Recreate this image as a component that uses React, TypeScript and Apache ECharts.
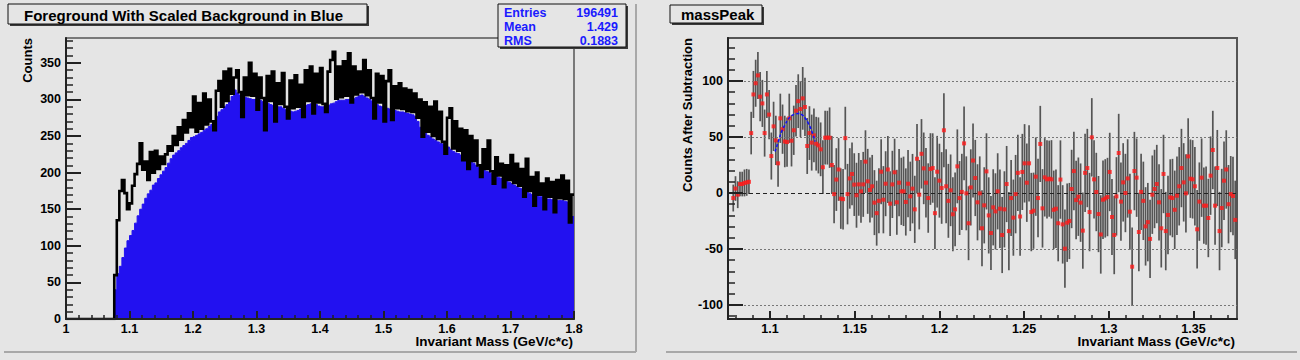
import React, { useEffect, useRef } from "react";
import * as echarts from "echarts";

// ---------- Left panel: foreground / scaled background histograms ----------
const HIST_MIN = 1.0;
const HIST_MAX = 1.8;
const FIRST_FILLED_EDGE = 1.076;
const BIN_WIDTH = 0.004;

const fgCounts = [
  60, 135, 175, 190, 172, 150, 158, 182, 198, 212,
  240, 204, 215, 190, 228, 200, 230, 205, 222, 212,
  225, 236, 230, 250, 238, 262, 245, 272, 255, 281,
  262, 304, 256, 295, 260, 308, 266, 300, 270, 258,
  312, 325, 290, 338, 298, 342, 308, 330, 340, 310,
  276, 330, 306, 350, 305, 335, 286, 330, 302, 258,
  332, 298, 338, 270, 322, 294, 336, 290, 274, 326,
  288, 333, 290, 320, 276, 340, 298, 345, 281, 335,
  296, 343, 294, 283, 338, 354, 365, 301, 345, 303,
  352, 305, 363, 296, 345, 307, 338, 310, 354, 306,
  340, 302, 274, 335, 296, 332, 270, 325, 340, 272,
  318, 288, 322, 287, 315, 284, 313, 283, 308, 275,
  300, 249, 296, 256, 290, 250, 297, 246, 283, 242,
  226, 275, 288, 233, 270, 230, 260, 217, 258, 205,
  250, 216, 244, 210, 194, 232, 205, 244, 202, 185,
  221, 196, 212, 180, 210, 190, 224, 186, 212, 182,
  205, 167, 219, 175, 194, 155, 200, 170, 185, 150,
  192, 167, 187, 146, 190, 165, 196, 164, 189, 132,
  170,
];

const bgCounts = [
  40, 62, 72, 84, 97, 107, 114, 121, 131, 141,
  150, 157, 165, 171, 176, 183, 186, 192, 197, 202,
  207, 213, 219, 224, 227, 230, 234, 237, 240, 244,
  248, 249, 251, 253, 255, 258, 260, 263, 266, 270,
  277, 283, 286, 290, 293, 298, 304, 313, 309, 306,
  304, 303, 302, 301, 300, 300, 299, 299, 297, 296,
  295, 293, 292, 291, 290, 290, 288, 286, 285, 284,
  283, 284, 285, 287, 290, 292, 293, 294, 295, 293,
  291, 290, 290, 290, 292, 294, 295, 297, 299, 299,
  299, 300, 300, 301, 301, 303, 305, 306, 304, 302,
  300, 298, 295, 293, 291, 290, 289, 288, 287, 286,
  285, 284, 283, 283, 282, 281, 280, 279, 277, 270,
  262, 257, 254, 251, 249, 246, 244, 242, 240, 239,
  237, 235, 232, 229, 227, 226, 224, 221, 218, 217,
  215, 213, 210, 207, 205, 204, 202, 201, 199, 197,
  195, 193, 192, 190, 188, 187, 185, 183, 181, 179,
  178, 176, 174, 172, 170, 169, 168, 167, 167, 166,
  164, 164, 163, 162, 162, 162, 162, 161, 160, 158,
  140,
];

const leftXTicks = [1, 1.1, 1.2, 1.3, 1.4, 1.5, 1.6, 1.7, 1.8];
const leftYTicks = [0, 50, 100, 150, 200, 250, 300, 350];
const LEFT_Y_MAX = 384;

// ---------- Right panel: subtracted mass peak ----------
const SUB_X_MIN = 1.0752;
const SUB_X_MAX = 1.3757;
const SUB_FIRST_CENTER = 1.0783;
const SUB_STEP = 0.001323;
const SUB_Y_MIN = -112.5;
const SUB_Y_MAX = 138.4;

const subValues = [
  -4.5, 4, -1.5, 8, 8, 9, 9.5, 10, 53.5, 88,
  98, 105, 86, 80, 53.5, 88, 70, 33, 59.5, 47,
  26.5, 66.7, 57, 46, 45.5, 66.7, 46.7, 56, 73.5, 82,
  75, 84.5, 76.8, 42, 53.5, 45, 51.5, 44, 42.5, 39,
  23, 49.4, 49.4, 49.4, 25, -1, 12, 21, -5, -5.5,
  49, -1, 13, 17, 7.5, -2, 7.7, 1.5, 7.7, 28,
  10.4, 2.7, 6, -8.6, -18, -7, 19, -6, 8.3, 21,
  -9.5, 7.7, 18.5, -8.3, 9.2, 1.5, 1.5, -8, 8.3, -3,
  3.9, -14.6, 30.6, -1.5, 35, 22, 9.2, -4.5, 21.4, 22.3,
  -18, 19, 11, 4.5, 56, 6, -7, 2.4, -19, -14.6,
  23.8, -4.5, 1, 44.3, -0.3, -27, 5, 29, 13.4, -8.3,
  -0.3, -31.5, -11, 19.3, -20, -35.7, -12.8, -16.4, 1.5, -14,
  -37.5, -14.6, 8, -34, -4.5, -22, -1, 18, -21, 18.8,
  26.5, 9.2, 26.5, -17, -15.8, 14.6, -4.5, 43.8, -13.7, 14,
  12.2, 12.8, 12.2, -15, -14, -27, 12, -28, -49.7, -26.5,
  -25, 3.6, 19.6, -6.3, -3.3, -8.6, -33.6, 18, 22.3, -17,
  49.7, 12.2, 0.9, -18.8, -37, -6, -4.8, -3.6, 18.8, -21.4,
  -37.5, -3, 35.7, -7.7, 9.5, 0, 13, -16.7, -65.8, 19.6,
  13.7, -34.8, 1, -7, -29.8, -26, -41, -1.5, 3.6, 8,
  -8.3, -31.5, 17, -34, -19.6, -3.9, -4.5, -15, -2.4, 6,
  22.3, 9.5, -0.3, 32.7, 12.8, 12.2, 6, -32.4, -7.7, 13.7,
  -11.3, -11.3, -22.3, 15.5, 38.4, -11.3, 22.3, -34, -13.4, 11,
  21, -10, -1, -2.7, -24,
];

const subErrors = [
  12, 11, 12, 11, 11, 12, 12, 11, 19, 21,
  21, 21, 22, 21, 21, 21, 22, 21, 22, 22,
  21, 22, 22, 23, 22, 22, 23, 22, 23, 24,
  25, 28, 26, 25, 24, 25, 24, 24, 25, 24,
  24, 24, 24, 27, 26, 26, 28, 28, 27, 27,
  28, 27, 27, 28, 28, 29, 28, 28, 29, 28,
  29, 29, 28, 29, 29, 29, 29, 30, 29, 30,
  29, 30, 30, 29, 30, 30, 31, 30, 30, 31,
  31, 30, 31, 31, 31, 32, 31, 31, 32, 31,
  32, 32, 33, 32, 33, 33, 33, 32, 33, 33,
  33, 33, 34, 33, 33, 33, 34, 33, 34, 34,
  33, 34, 34, 34, 34, 33, 34, 34, 34, 35,
  34, 34, 34, 35, 34, 34, 35, 34, 35, 34,
  35, 35, 34, 35, 34, 35, 35, 34, 35, 35,
  35, 34, 35, 35, 35, 34, 35, 35, 35, 35,
  34, 35, 35, 35, 35, 35, 34, 35, 35, 35,
  35, 35, 35, 34, 35, 35, 35, 35, 35, 34,
  35, 35, 35, 35, 35, 35, 35, 34, 35, 35,
  35, 35, 34, 35, 35, 35, 35, 35, 35, 35,
  34, 35, 35, 35, 35, 34, 35, 35, 35, 35,
  35, 35, 35, 34, 35, 35, 35, 35, 35, 35,
  34, 35, 35, 35, 35, 35, 34, 35, 35, 35,
  35, 35, 34, 35, 35,
];

const fitX = [1.103, 1.1049, 1.1069, 1.1089, 1.1108, 1.1128, 1.1148, 1.1168, 1.1187, 1.1207, 1.1227, 1.1247, 1.1266];
const fitY = [37, 46, 55, 61, 66, 69, 70.5, 71, 70, 67, 62, 55, 46];

const rightXTicks = [1.1, 1.15, 1.2, 1.25, 1.3, 1.35];
const rightYTicks = [-100, -50, 0, 50, 100];

// ---------- helpers ----------
function minorTicks(start: number, stop: number, step: number, majors: number[]) {
  const out: number[] = [];
  const n = Math.round((stop - start) / step);
  for (let k = 0; k <= n; k++) {
    const v = Math.round((start + k * step) * 10000) / 10000;
    if (!majors.some((m) => Math.abs(m - v) < 1e-6)) out.push(v);
  }
  return out;
}

const FONT = '"Liberation Sans", Arial, Helvetica, sans-serif';
const BG = "#e5e5e5";
const BLUE = "#2211f0";

const labelStyle = { fontFamily: FONT, fontWeight: "bold" as const, fontSize: 12.5, color: "#000" };

function majorAxis(dim: "x" | "y", grid: number, min: number, max: number, ticks: number[], tickLen: number, margin: number) {
  return {
    type: "value",
    gridIndex: grid,
    position: dim === "x" ? "bottom" : "left",
    min,
    max,
    z: 10,
    axisLine: { show: true, onZero: false, lineStyle: { color: "#222", width: 2 } },
    axisTick: { show: true, inside: true, length: tickLen, customValues: ticks, lineStyle: { color: "#222", width: 2 } },
    axisLabel: { show: true, customValues: ticks, margin, ...labelStyle, formatter: (v: number) => String(v), hideOverlap: false },
    splitLine: { show: false },
    minorTick: { show: false },
  };
}

function minorAxis(dim: "x" | "y", grid: number, min: number, max: number, ticks: number[], tickLen: number) {
  return {
    type: "value",
    gridIndex: grid,
    position: dim === "x" ? "bottom" : "left",
    min,
    max,
    z: 10,
    axisLine: { show: false, onZero: false },
    axisTick: { show: true, inside: true, length: tickLen, customValues: ticks, lineStyle: { color: "#222", width: 1.5 } },
    axisLabel: { show: false },
    splitLine: { show: false },
  };
}

function boxWithShadow(x: number, y: number, w: number, h: number) {
  return [
    { type: "rect", z: 100, shape: { x: x + 2, y: y + 2, width: w, height: h }, style: { fill: "#3a3a3a" } },
    { type: "rect", z: 101, shape: { x, y, width: w, height: h }, style: { fill: BG, stroke: "#111", lineWidth: 1 } },
  ];
}

function txt(x: number, y: number, text: string, size: number, align: string, color = "#000", rotation = 0) {
  return {
    type: "text",
    z: 102,
    x,
    y,
    rotation,
    style: {
      text,
      fill: color,
      font: `bold ${size}px ${FONT}`,
      align,
      verticalAlign: "middle",
      textAlign: align,
      textVerticalAlign: "middle",
    },
  };
}

export default function App() {
  const ref = useRef<HTMLDivElement>(null);

  useEffect(() => {
    if (!ref.current) return;
    const chart = echarts.init(ref.current, undefined, { renderer: "svg" });

    const fgData: number[][] = [[HIST_MIN, 0]];
    fgCounts.forEach((v, i) => fgData.push([FIRST_FILLED_EDGE + i * BIN_WIDTH, v]));
    fgData.push([HIST_MAX, fgCounts[fgCounts.length - 1]]);

    const bgData: number[][] = [[HIST_MIN, 0]];
    bgCounts.forEach((v, i) => bgData.push([FIRST_FILLED_EDGE + i * BIN_WIDTH, v]));
    bgData.push([HIST_MAX, bgCounts[bgCounts.length - 1]]);

    const pts = subValues.map((v, i) => [SUB_FIRST_CENTER + i * SUB_STEP, v]);
    const bars = subValues.map((v, i) => [SUB_FIRST_CENTER + i * SUB_STEP, v - subErrors[i], v + subErrors[i]]);
    const fit = fitX.map((x, i) => [x, fitY[i]]);

    const option: any = {
      animation: false,
      backgroundColor: BG,
      grid: [
        { left: 66, top: 38, width: 508, height: 281, show: true, borderColor: "#555", borderWidth: 1.5, backgroundColor: "transparent", containLabel: false },
        { left: 728, top: 38, width: 509, height: 281, show: true, borderColor: "#555", borderWidth: 2, backgroundColor: "transparent", containLabel: false },
      ],
      xAxis: [
        majorAxis("x", 0, HIST_MIN, HIST_MAX, leftXTicks, 8, 3),
        minorAxis("x", 0, HIST_MIN, HIST_MAX, minorTicks(1.0, 1.8, 0.02, leftXTicks), 4),
        majorAxis("x", 1, SUB_X_MIN, SUB_X_MAX, rightXTicks, 8, 3),
        minorAxis("x", 1, SUB_X_MIN, SUB_X_MAX, minorTicks(1.08, 1.37, 0.01, rightXTicks), 4),
      ],
      yAxis: [
        majorAxis("y", 0, 0, LEFT_Y_MAX, leftYTicks, 15, 5),
        minorAxis("y", 0, 0, LEFT_Y_MAX, minorTicks(0, 380, 10, leftYTicks), 7),
        majorAxis("y", 1, SUB_Y_MIN, SUB_Y_MAX, rightYTicks, 15, 5),
        minorAxis("y", 1, SUB_Y_MIN, SUB_Y_MAX, minorTicks(-110, 130, 10, rightYTicks), 7),
      ],
      series: [
        {
          type: "line",
          name: "background",
          xAxisIndex: 0,
          yAxisIndex: 0,
          step: "end",
          data: bgData,
          showSymbol: false,
          silent: true,
          z: 2,
          lineStyle: { color: BLUE, width: 1 },
          areaStyle: { color: BLUE, opacity: 1 },
        },
        {
          type: "line",
          name: "foreground",
          xAxisIndex: 0,
          yAxisIndex: 0,
          step: "end",
          data: fgData,
          showSymbol: false,
          silent: true,
          z: 3,
          lineStyle: { color: "#000", width: 2.6, join: "miter" },
        },
        {
          type: "line",
          name: "grid",
          xAxisIndex: 2,
          yAxisIndex: 2,
          data: [],
          silent: true,
          z: 1,
          markLine: {
            silent: true,
            symbol: ["none", "none"],
            label: { show: false },
            data: rightYTicks.map((v) => ({
              yAxis: v,
              lineStyle: v === 0 ? { color: "#222", type: [4, 3], width: 1 } : { color: "#777", type: [2, 2], width: 1 },
            })),
          },
        },
        {
          type: "custom",
          name: "errors",
          xAxisIndex: 2,
          yAxisIndex: 2,
          data: bars,
          encode: { x: 0, y: [1, 2] },
          silent: true,
          z: 4,
          renderItem: (params: any, api: any) => {
            const x = api.value(0);
            const p1 = api.coord([x, api.value(1)]);
            const p2 = api.coord([x, api.value(2)]);
            return {
              type: "line",
              shape: { x1: p1[0], y1: p1[1], x2: p2[0], y2: p2[1] },
              style: { stroke: "#555", lineWidth: 1.7 },
            };
          },
        },
        {
          type: "scatter",
          name: "points",
          xAxisIndex: 2,
          yAxisIndex: 2,
          data: pts,
          symbol: "rect",
          symbolSize: 4,
          silent: true,
          z: 5,
          itemStyle: { color: "#ff1a1a" },
        },
        {
          type: "line",
          name: "fit",
          xAxisIndex: 2,
          yAxisIndex: 2,
          data: fit,
          smooth: true,
          showSymbol: false,
          silent: true,
          z: 6,
          lineStyle: { color: "#1010ff", width: 1.5, type: [3, 2] },
        },
      ],
      graphic: [
        // pad borders
        { type: "line", z: 90, shape: { x1: 4, y1: 352, x2: 636, y2: 352 }, style: { stroke: "#a8a8a8", lineWidth: 2 } },
        { type: "line", z: 90, shape: { x1: 636, y1: 4, x2: 636, y2: 352 }, style: { stroke: "#a8a8a8", lineWidth: 2 } },
        { type: "line", z: 90, shape: { x1: 666, y1: 352, x2: 1297, y2: 352 }, style: { stroke: "#a8a8a8", lineWidth: 2 } },
        // left title
        ...boxWithShadow(8, 4, 359, 20),
        txt(24, 15, "Foreground With Scaled Background in Blue", 15, "left"),
        // stats box
        ...boxWithShadow(498, 4, 128, 43),
        txt(504, 13, "Entries", 12.5, "left", "#1a1aff"),
        txt(618, 13, "196491", 12.5, "right", "#1a1aff"),
        txt(504, 27, "Mean", 12.5, "left", "#1a1aff"),
        txt(618, 27, "1.429", 12.5, "right", "#1a1aff"),
        txt(504, 41, "RMS", 12.5, "left", "#1a1aff"),
        txt(618, 41, "0.1883", 12.5, "right", "#1a1aff"),
        // right title
        ...boxWithShadow(670, 5, 92, 18),
        txt(681, 14.5, "massPeak", 15, "left"),
        // axis titles
        txt(27, 38, "Counts", 13, "right", "#000", Math.PI / 2),
        txt(573, 341, "Invariant Mass (GeV/c*c)", 13.5, "right"),
        txt(687, 38, "Counts After Subtraction", 13, "right", "#000", Math.PI / 2),
        txt(1235, 341, "Invariant Mass (GeV/c*c)", 13.5, "right"),
      ],
    };

    chart.setOption(option);
    return () => chart.dispose();
  }, []);

  return <div ref={ref} style={{ position: "absolute", left: 0, top: 0, width: 1300, height: 360 }} />;
}
